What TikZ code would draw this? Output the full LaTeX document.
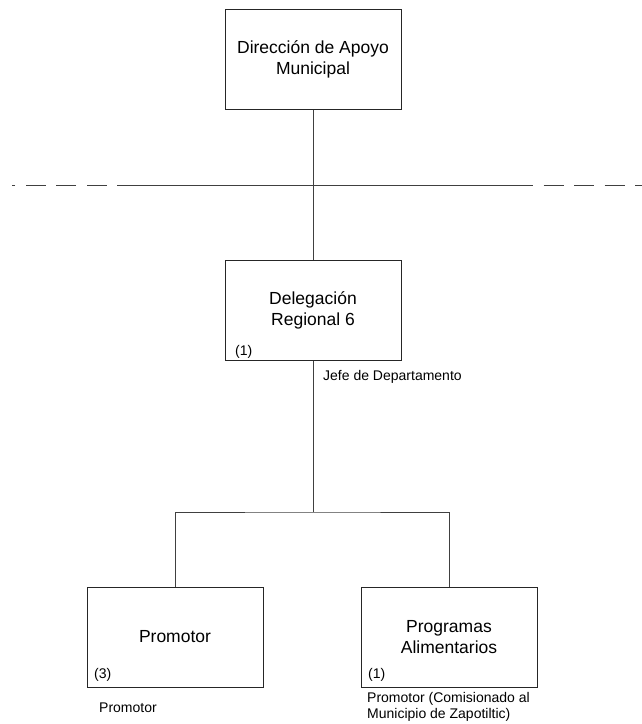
\documentclass[tikz,border=0pt]{standalone}
\usepackage{fontspec}
\setmainfont{Liberation Sans}
\usetikzlibrary{positioning}

\begin{document}
\begin{tikzpicture}[x=1pt, y=-1pt,
      every node/.style={font=\fontsize{14}{16}\selectfont, inner sep=0pt},
      nd/.style={draw=black!85, line width=1pt, minimum width=176pt,
                 minimum height=100pt, align=center,
                 font=\fontsize{17.5}{21}\selectfont},
      num/.style={anchor=base west},
      lbl/.style={anchor=base west, align=left},
      ln/.style={draw=black!75, line width=1pt},
      sep/.style={ln, dash pattern=on 20pt off 10.5pt}
    ]
      \useasboundingbox (0,0) rectangle (642,724);

      % boxes
      \node[nd] (dir)  at (313,59)  {Dirección de Apoyo\\Municipal};
      \node[nd] (del)  at (313,310) {Delegación\\Regional 6};
      \node[nd] (prom) at (175,637) {Promotor};
      \node[nd] (prog) at (449,637) {Programas\\Alimentarios};

      % staff counts and posts
      \node[num] (delnum)  at (235,355) {(1)};
      \node[num] (promnum) at (94,678)  {(3)};
      \node[num] (prognum) at (368,678) {(1)};
      \node[lbl] (deljefe) at (323,380) {Jefe de Departamento};
      \node[lbl] (promlbl) at (99,712)  {Promotor};
      \node[lbl, anchor=north west] (proglbl) at (367,692.5)
        {Promotor (Comisionado al\\Municipio de Zapotiltic)};

      % separator line
      \coordinate (sepL)    at (137,185);
      \coordinate (sepR)    at (513,185);
      \coordinate (sepLend) at (12,185);
      \coordinate (sepRend) at (642,185);
      \draw[ln]  (sepL) -- (sepR);
      \draw[sep] (sepL) -- (sepLend);
      \draw[sep] (sepR) -- (sepRend);

      % tree
      \coordinate (split) at (313,512);
      \draw[ln] (dir) -- (del);
      \draw[ln] (del) -- (split);
      \draw[ln] (prom.north) |- (split) -| (prog.north);
    \end{tikzpicture}
\end{document}
